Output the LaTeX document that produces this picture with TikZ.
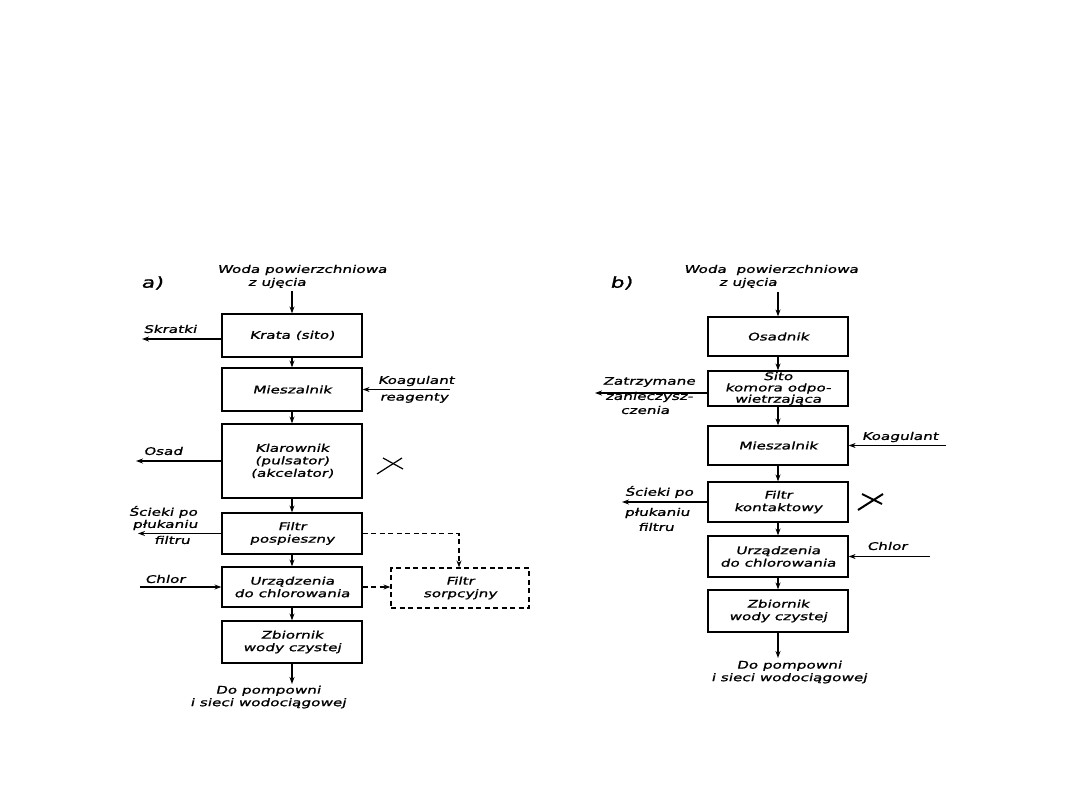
\documentclass[tikz,border=0pt]{standalone}
\usepackage{fontspec}
\newfontfamily\lab{DejaVu Sans}[FakeStretch=1.45,FakeSlant=0.22,FakeBold=1.2]
\usetikzlibrary{arrows.meta}
\begin{document}
\begin{tikzpicture}[x=1pt,y=-1pt,
  every node/.style={font=\lab\fontsize{10.5}{12.5}\selectfont, inner sep=0pt, align=center},
  box/.style={draw, line width=1.2pt, minimum width=140pt},
  dbox/.style={box, dashed, dash pattern=on 5pt off 3.5pt},
  arr/.style={-{Stealth[length=7pt,width=5pt]}, line width=1.2pt},
  darr/.style={arr, dash pattern=on 5pt off 3.5pt},
  tag/.style={font=\lab\fontsize{15}{16}\selectfont},
  xmark/.style={line width=1.2pt}]
\useasboundingbox (0,0) rectangle (1080,810);

% ---------------- a) ----------------
\node[tag] (ta) at (152,283) {a)};
\node (woda1) at (302,270) {Woda powierzchniowa};
\node (uj1) at (277,283) {z ujęcia};
\coordinate (inA) at (292,291);

\node[box, minimum height=43pt] (krata) at (292,335.5) {Krata (sito)};
\node[box, minimum height=43pt] (mieszA) at (292,389.5) {Mieszalnik};
\node[box, minimum height=74pt] (klar) at (292,461) {Klarownik\\(pulsator)\\(akcelator)};
\node[box, minimum height=41pt] (filtrA) at (292,533.5) {Filtr\\pospieszny};
\node[box, minimum height=40pt] (chlorA) at (292,587) {Urządzenia\\do chlorowania};
\node[box, minimum height=42pt] (zbiorA) at (292,642) {Zbiornik\\wody czystej};
\node[dbox, minimum width=138pt, minimum height=40pt] (sorp) at (460,588) {Filtr\\sorpcyjny};
\node (outA) at (268,697) {Do pompowni\\i sieci wodociągowej};
\coordinate (endA) at (292,684);

\draw[arr] (inA) -- (krata.north);
\draw[arr] (krata) -- (mieszA);
\draw[arr] (mieszA) -- (klar);
\draw[arr] (klar) -- (filtrA);
\draw[arr] (filtrA) -- (chlorA);
\draw[arr] (chlorA) -- (zbiorA);
\draw[arr] (zbiorA.south) -- (endA);

% side streams a)
\node (skr) at (170,329) {Skratki};
\coordinate (skrE) at (142,339);
\draw[arr] (krata.west |- skrE) -- (skrE);

\node (koag1) at (416,381) {Koagulant};
\node (reag1) at (414,398) {reagenty};
\coordinate (koagS) at (450,389.5);
\draw[arr] (koagS) -- (mieszA.east);

\node (osad) at (163,451) {Osad};
\coordinate (osadE) at (136,461);
\draw[arr] (klar.west) -- (osadE);

\node (sc1) at (163,512) {Ścieki po};
\node (sc2) at (165,525) {płukaniu};
\node (sc3) at (172,540) {filtru};
\coordinate (scE) at (138,533.5);
\draw[arr] (filtrA.west) -- (scE);

\node (chl1) at (165,579) {Chlor};
\coordinate (chlS) at (140,587);
\draw[arr] (chlS) -- (chlorA.west);

\coordinate (dk) at (459,533.5);
\draw[darr] (filtrA.east) -- (dk) -- (sorp.north -| dk);
\draw[darr] (chlorA.east) -- (sorp.west |- chlorA.east);

\draw[xmark] (377,474) -- (402,458);
\draw[xmark] (383,458) -- (403,469);

% ---------------- b) ----------------
\node[tag] (tb) at (621,283) {b)};
\node (woda2) at (771,270) {Woda\ \ powierzchniowa};
\node (uj2) at (748,283) {z ujęcia};
\coordinate (inB) at (778,292);

\node[box, minimum height=39pt] (osadn) at (778,336.5) {Osadnik};
\node[box, minimum height=35pt, font=\lab\fontsize{10.5}{11.3}\selectfont] (sito) at (778,388.5) {Sito\\komora odpo-\\wietrzająca};
\node[box, minimum height=39pt] (mieszB) at (778,445.5) {Mieszalnik};
\node[box, minimum height=40pt] (kont) at (778,502) {Filtr\\kontaktowy};
\node[box, minimum height=41pt] (chlorB) at (778,556.5) {Urządzenia\\do chlorowania};
\node[box, minimum height=42pt] (zbiorB) at (778,611) {Zbiornik\\wody czystej};
\node (outB) at (789,672) {Do pompowni\\i sieci wodociągowej};
\coordinate (endB) at (778,658);

\draw[arr] (inB) -- (osadn.north);
\draw[arr] (osadn) -- (sito);
\draw[arr] (sito) -- (mieszB);
\draw[arr] (mieszB) -- (kont);
\draw[arr] (kont) -- (chlorB);
\draw[arr] (chlorB) -- (zbiorB);
\draw[arr] (zbiorB.south) -- (endB);

% side streams b)
\node (zat1) at (649,382) {Zatrzymane};
\node (zat2) at (649,397) {zanieczysz-};
\node (zat3) at (645,410) {czenia};
\coordinate (zatE) at (595,393);
\draw[arr] (sito.west |- zatE) -- (zatE);

\node (koag2) at (900,437) {Koagulant};
\coordinate (koag2S) at (946,445.5);
\draw[arr] (koag2S) -- (mieszB.east);

\node (sb1) at (659,492) {Ścieki po};
\node (sb2) at (657,513) {płukaniu};
\node (sb3) at (656,527) {filtru};
\coordinate (sbE) at (622,502);
\draw[arr] (kont.west) -- (sbE);

\node (chl2) at (887,546) {Chlor};
\coordinate (chl2S) at (930,556.5);
\draw[arr] (chl2S) -- (chlorB.east);

\draw[xmark, line width=2pt] (858,510) -- (883,494);
\draw[xmark, line width=2pt] (862,494) -- (882,504);
\end{tikzpicture}
\end{document}
